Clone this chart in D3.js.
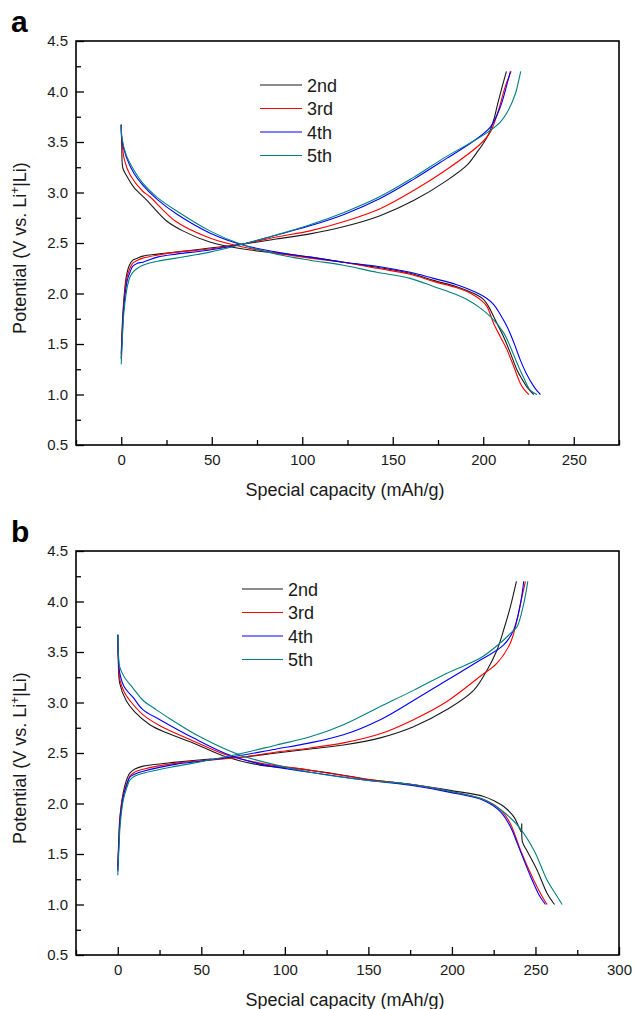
<!DOCTYPE html>
<html>
<head>
<meta charset="utf-8">
<script src="https://cdn.jsdelivr.net/npm/d3@7"></script>
<style>
  body { margin: 0; background: #fff; }
  svg { display: block; font-family: "Liberation Sans", Arial, sans-serif; }
</style>
</head>
<body>
<svg width="635" height="1009"></svg>
<script>
// ---- data (capacity mAh/g, potential V) ----
var cycles = ['2nd', '3rd', '4th', '5th']
var colors = ['#1a1a1a', '#ff0000', '#0000ff', '#008080']

var xTicksA = [0, 50, 100, 150, 200, 250]
var xTicksB = [0, 50, 100, 150, 200, 250, 300]
var yTicks = [0.5, 1.0, 1.5, 2.0, 2.5, 3.0, 3.5, 4.0, 4.5]

// panel a
var a2Charge = [[0,1.40],[0.6,1.70],[1.5,1.95],[2.8,2.17],[4.5,2.28],[6.4,2.33],[9,2.35],[12,2.37],[20,2.39],[30.4,2.41],[48.9,2.45],[67.3,2.49],[85.8,2.54],[104.3,2.59],[122.7,2.66],[143,2.77],[161.5,2.92],[180,3.12],[191,3.27],[196.6,3.40],[200.2,3.49],[203,3.58],[205.8,3.72],[208,3.88],[210.5,4.05],[212.8,4.20]]
var a3Charge = [[0,1.36],[0.6,1.65],[1.5,1.92],[3,2.15],[4.8,2.25],[6.4,2.30],[9,2.33],[12,2.35],[20,2.38],[30.4,2.41],[48.9,2.44],[67.3,2.49],[85.8,2.56],[104.3,2.62],[122.7,2.71],[143,2.84],[161.5,3.02],[180,3.23],[198.4,3.48],[204,3.60],[208.5,3.82],[212.2,4.05],[215.4,4.20]]
var a4Charge = [[0,1.35],[0.6,1.60],[1.5,1.88],[3.2,2.12],[5,2.22],[6.4,2.27],[9,2.30],[12,2.31],[20,2.36],[30.4,2.39],[48.9,2.43],[67.3,2.49],[85.8,2.58],[104.3,2.67],[122.7,2.78],[143,2.94],[161.5,3.13],[180,3.34],[194.7,3.51],[204,3.65],[209.5,3.85],[212.2,4.01],[215,4.20]]
var a5Charge = [[0,1.30],[0.6,1.55],[1.5,1.82],[3.5,2.08],[5,2.17],[6.4,2.21],[9,2.25],[12,2.28],[20,2.32],[30.4,2.35],[48.9,2.41],[67.3,2.49],[85.8,2.58],[104.3,2.68],[122.7,2.80],[143,2.96],[161.5,3.15],[180,3.36],[194.7,3.51],[202,3.59],[209.5,3.70],[214,3.82],[217.8,3.98],[219.6,4.11],[220.7,4.20]]

var a2Discharge = [[0,3.67],[0.3,3.45],[0.9,3.24],[2.8,3.17],[7,3.05],[13.8,2.93],[24.9,2.72],[34,2.62],[48.9,2.51],[67.3,2.44],[85.8,2.40],[104.3,2.36],[122.7,2.31],[141.2,2.26],[159.6,2.20],[172.5,2.13],[185,2.07],[191,2.03],[196,1.99],[200.2,1.94],[203,1.87],[205.8,1.77],[208.5,1.67],[211.3,1.57],[215,1.41],[218.7,1.24],[221.5,1.15],[224.3,1.07],[227.9,1.00]]
var a3Discharge = [[0,3.67],[0.4,3.50],[1.8,3.32],[5,3.17],[12,3.01],[15.7,2.96],[30.4,2.71],[48.9,2.55],[67.3,2.46],[85.8,2.40],[104.3,2.35],[122.7,2.31],[141.2,2.25],[159.6,2.19],[172.5,2.12],[185,2.06],[191,2.02],[196,1.97],[199,1.93],[202.1,1.87],[205.8,1.70],[209.5,1.57],[213.2,1.44],[217,1.27],[220.5,1.11],[223,1.04],[225.2,1.00]]
var a4Discharge = [[0,3.67],[0.4,3.52],[2.8,3.35],[7,3.19],[12,3.07],[20,2.93],[30.4,2.79],[48.9,2.60],[67.3,2.48],[85.8,2.41],[104.3,2.36],[122.7,2.31],[141.2,2.27],[159.6,2.21],[172.5,2.15],[185,2.09],[191,2.05],[198.4,1.99],[202,1.95],[205.8,1.89],[209.5,1.79],[213.2,1.67],[217,1.51],[220.5,1.34],[224,1.20],[227.9,1.08],[230,1.03],[231.6,1.00]]
var a5Discharge = [[0,3.67],[0.4,3.54],[2.8,3.37],[7,3.22],[12,3.09],[20,2.95],[30.4,2.82],[48.9,2.62],[67.3,2.48],[85.8,2.39],[104.3,2.33],[122.7,2.28],[141.2,2.21],[159.6,2.15],[172.5,2.07],[185,1.99],[191,1.94],[198,1.86],[204,1.77],[211.3,1.61],[215,1.47],[218.7,1.31],[222.5,1.16],[226.1,1.04],[229.7,1.00]]

// panel b
var b2Charge = [[0,1.38],[0.6,1.65],[1.2,1.85],[3.2,2.10],[5,2.22],[7.2,2.30],[10,2.34],[15.2,2.37],[35.2,2.41],[55.2,2.44],[75.1,2.46],[95.1,2.50],[115.1,2.54],[135.1,2.58],[157.1,2.65],[177,2.76],[197,2.93],[213,3.12],[221,3.32],[227,3.52],[231,3.72],[235,3.95],[238.6,4.20]]
var b3Charge = [[0,1.35],[0.6,1.60],[1.5,1.88],[3.5,2.10],[5.5,2.20],[7.2,2.27],[10,2.31],[15.2,2.34],[35.2,2.40],[55.2,2.43],[75.1,2.46],[95.1,2.51],[115.1,2.55],[135.1,2.60],[157.1,2.69],[177,2.83],[197,3.01],[217,3.26],[227,3.39],[235,3.59],[239,3.82],[242,4.05],[244,4.20]]
var b4Charge = [[0,1.33],[0.6,1.58],[1.5,1.85],[3.5,2.08],[5.5,2.19],[7.2,2.26],[10,2.29],[15.2,2.32],[35.2,2.39],[55.2,2.43],[75.1,2.48],[95.1,2.54],[115.1,2.60],[135.1,2.68],[157.1,2.83],[177,3.02],[197,3.22],[217,3.42],[231,3.57],[237,3.72],[241,3.98],[243,4.20]]
var b5Charge = [[0,1.29],[0.6,1.52],[1.5,1.80],[3.5,2.05],[5.5,2.16],[7.2,2.23],[10,2.27],[15.2,2.30],[35.2,2.37],[55.2,2.43],[75.1,2.50],[95.1,2.58],[115.1,2.66],[135.1,2.78],[157.1,2.96],[177,3.12],[197,3.29],[217,3.44],[229,3.59],[236,3.70],[239,3.75],[243,3.98],[245.4,4.20]]

var b2Discharge = [[0,3.67],[0.3,3.42],[1.2,3.19],[5,3.02],[10,2.91],[19.2,2.78],[29.2,2.70],[45.1,2.60],[65.2,2.46],[85.1,2.38],[105.1,2.35],[135.1,2.28],[149.1,2.24],[175.1,2.19],[199,2.13],[219,2.07],[226,2.02],[231,1.97],[237,1.87],[240,1.77],[241.5,1.72],[241.8,1.80],[242.2,1.62],[245,1.53],[251,1.34],[257,1.11],[261.4,1.00]]
var b3Discharge = [[0,3.67],[0.3,3.45],[1.2,3.23],[4,3.10],[9.2,2.98],[15,2.88],[25.2,2.77],[45.1,2.62],[65.2,2.48],[85.1,2.40],[115.1,2.33],[149.1,2.24],[175.1,2.19],[199,2.12],[219,2.04],[229,1.94],[235,1.80],[241,1.54],[249,1.24],[254,1.08],[257,1.00]]
var b4Discharge = [[0,3.67],[0.3,3.48],[1.2,3.29],[4,3.15],[9.2,3.05],[15,2.93],[25.2,2.83],[45.1,2.65],[65.2,2.49],[85.1,2.39],[115.1,2.31],[149.1,2.23],[175.1,2.18],[199,2.11],[219,2.03],[229,1.92],[235,1.77],[239,1.61],[247,1.28],[252,1.10],[256,1.00]]
var b5Discharge = [[0,3.67],[0.3,3.52],[1.2,3.35],[4,3.25],[9.2,3.14],[15.2,3.02],[22,2.94],[29.2,2.86],[49.2,2.66],[73.1,2.48],[95.1,2.38],[115.1,2.31],[149.1,2.23],[175.1,2.19],[199,2.12],[219,2.04],[229,1.94],[239,1.79],[249,1.54],[257,1.24],[263,1.08],[266,1.00]]

var panels = [
  { letter: 'a', top: 41, bottom: 445, xDomain: [-25, 275], xTicks: xTicksA,
    legend: { x1: 260, x2: 302, y: 85 },
    charge: [a2Charge, a3Charge, a4Charge, a5Charge],
    discharge: [a2Discharge, a3Discharge, a4Discharge, a5Discharge] },
  { letter: 'b', top: 551, bottom: 955, xDomain: [-25, 300], xTicks: xTicksB,
    legend: { x1: 242, x2: 283, y: 589 },
    charge: [b2Charge, b3Charge, b4Charge, b5Charge],
    discharge: [b2Discharge, b3Discharge, b4Discharge, b5Discharge] }
]

var svg = d3.select('svg')
var left = 76, right = 619

function range(a, b, step) {
  var out = []
  for (var v = a; v <= b + 1e-9; v += step) out.push(+v.toFixed(3))
  return out
}

panels.forEach(function(p) {
  var x = d3.scaleLinear().domain(p.xDomain).range([left, right])
  var y = d3.scaleLinear().domain([0.5, 4.5]).range([p.bottom, p.top])
  var g = svg.append('g')

  // curves
  var line = d3.line()
    .x(function(d) { return x(d[0]) })
    .y(function(d) { return y(d[1]) })
    .curve(d3.curveCatmullRom.alpha(0.5))

  cycles.forEach(function(c, i) {
    [p.charge[i], p.discharge[i]].forEach(function(s) {
      g.append('path')
        .attr('d', line(s))
        .attr('fill', 'none')
        .attr('stroke', colors[i])
        .attr('stroke-width', 1.1)
    })
  })

  // frame
  g.append('rect')
    .attr('x', left).attr('y', p.top)
    .attr('width', right - left).attr('height', p.bottom - p.top)
    .attr('fill', 'none').attr('stroke', '#000').attr('stroke-width', 1.6)

  // bottom axis, inward ticks
  var minorX = range(p.xDomain[0], p.xDomain[1], 25).filter(function(v) { return v % 50 !== 0 })
  g.append('g').attr('transform', 'translate(0,' + p.bottom + ')')
    .call(d3.axisBottom(x).tickValues(minorX).tickSizeInner(-5).tickSizeOuter(0).tickFormat(''))
    .call(function(a) { a.select('.domain').remove() })
  g.append('g').attr('transform', 'translate(0,' + p.bottom + ')')
    .call(d3.axisBottom(x).tickValues(p.xTicks).tickSizeInner(-8).tickSizeOuter(0).tickPadding(9)
      .tickFormat(d3.format('d')))
    .call(function(a) {
      a.select('.domain').remove()
      a.selectAll('text').attr('font-size', 15).attr('font-family', null).attr('fill', '#1a1a1a')
    })

  // left axis
  g.append('g').attr('transform', 'translate(' + left + ',0)')
    .call(d3.axisLeft(y).tickValues(range(0.75, 4.25, 0.5)).tickSizeInner(-5).tickSizeOuter(0).tickFormat(''))
    .call(function(a) { a.select('.domain').remove() })
  g.append('g').attr('transform', 'translate(' + left + ',0)')
    .call(d3.axisLeft(y).tickValues(yTicks).tickSizeInner(-8).tickSizeOuter(0).tickPadding(8)
      .tickFormat(d3.format('.1f')))
    .call(function(a) {
      a.select('.domain').remove()
      a.selectAll('text').attr('font-size', 15).attr('font-family', null).attr('fill', '#1a1a1a')
    })
  g.selectAll('.tick line').attr('stroke', '#000').attr('stroke-width', 1.3)

  // axis titles
  g.append('text')
    .attr('x', 345).attr('y', p.bottom + 51)
    .attr('text-anchor', 'middle').attr('font-size', 18).attr('fill', '#1a1a1a')
    .text('Special capacity (mAh/g)')

  var yt = g.append('text')
    .attr('transform', 'translate(26,' + ((p.top + p.bottom) / 2 + 5) + ') rotate(-90)')
    .attr('text-anchor', 'middle').attr('font-size', 18).attr('fill', '#1a1a1a')
  yt.append('tspan').text('Potential (V vs. Li')
  yt.append('tspan').attr('dy', -7).attr('font-size', 12).text('+')
  yt.append('tspan').attr('dy', 7).text('|Li)')

  // panel letter
  g.append('text')
    .attr('x', 11).attr('y', p.top - 9)
    .attr('font-size', 30).attr('font-weight', 'bold').attr('fill', '#000')
    .text(p.letter)

  // legend
  var lg = g.append('g')
  cycles.forEach(function(c, i) {
    var ly = p.legend.y + i * 23.5
    lg.append('line')
      .attr('x1', p.legend.x1).attr('x2', p.legend.x2)
      .attr('y1', ly).attr('y2', ly)
      .attr('stroke', colors[i]).attr('stroke-width', 1.2)
    lg.append('text')
      .attr('x', p.legend.x2 + 5).attr('y', ly + 6.5)
      .attr('font-size', 18).attr('fill', '#1a1a1a')
      .text(c)
  })
})
</script>
</body>
</html>
